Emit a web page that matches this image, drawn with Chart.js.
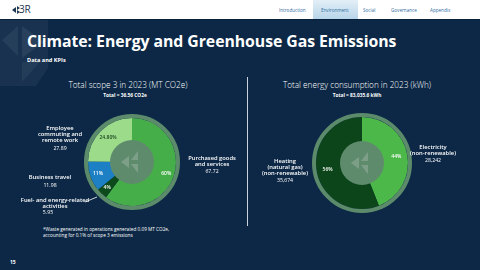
<!DOCTYPE html>
<html>
<head>
<meta charset="utf-8">
<script src="https://cdn.jsdelivr.net/npm/chart.js@4.4.1/dist/chart.umd.min.js"></script>
<style>
    html, body { margin: 0; padding: 0; }
    body {
        width: 480px; height: 270px; overflow: hidden; position: relative;
        background: #0c2846; color: #fff;
        font-family: 'Open Sans', sans-serif;
    }
    .abs { position: absolute; white-space: nowrap; }
    #header { left: 0; top: 0; width: 480px; height: 19px; background: #fff; border-bottom: 1px solid #08203a; }
    .nav { top: 7px; font-size: 4.6px; color: #2f6d9f; }
    #tab { left: 313px; top: 0; width: 45px; height: 19px; background: linear-gradient(#e3eff7, #b8d5e9); }
    #logo { left: 19px; top: 2px; font-size: 10px; color: #1c3550; letter-spacing: -0.3px; }
    #title { left: 27px; top: 30px; font-size: 15.8px; font-weight: 700; letter-spacing: -0.05px; }
    #subtitle { left: 27px; top: 56px; font-size: 5.6px; font-weight: 700; }
    .ctitle { top: 79px; font-size: 8.2px; font-weight: 300; transform: translateX(-50%); }
    .ctotal { top: 92px; font-size: 4.8px; font-weight: 700; transform: translateX(-50%); }
    #divider { left: 247px; top: 77px; width: 1px; height: 149px; background: #c9d3de; }
    #note { left: 43px; top: 226px; font-size: 4.7px; line-height: 6px; }
    #page { left: 10px; top: 259px; font-size: 5px; font-weight: 700; }
    canvas { position: absolute; }
</style>
</head>
<body>
<svg class="abs" style="left:0;top:20px" width="60" height="70">
    <polygon points="0,0 48,0 48,48 36,66 0,66" fill="#ffffff" fill-opacity="0.05"/>
    <polygon points="2,20 18,6 18,36" fill="#ffffff" fill-opacity="0.06"/>
    <polygon points="22,6 44,22 22,38" fill="#ffffff" fill-opacity="0.07"/>
    <polygon points="22,42 40,42 22,62" fill="#ffffff" fill-opacity="0.05"/>
</svg>
<div id="header" class="abs"></div>
<div id="tab" class="abs"></div>
<svg class="abs" style="left:12px;top:6px" width="9" height="8">
    <polygon points="0,4 4,1 4,7" fill="#1c3550"/>
    <polygon points="5,0 8,2 5,4" fill="#1c3550"/>
    <polygon points="5,4 8,6 5,8" fill="#1c3550"/>
</svg>
<div id="logo" class="abs">3R</div>
<div class="abs nav" style="left:279px">Introduction</div>
<div class="abs nav" style="left:321px">Environment</div>
<div class="abs nav" style="left:363px">Social</div>
<div class="abs nav" style="left:391px">Governance</div>
<div class="abs nav" style="left:430px">Appendix</div>

<div id="title" class="abs">Climate: Energy and Greenhouse Gas Emissions</div>
<div id="subtitle" class="abs">Data and KPIs</div>

<div class="abs ctitle" style="left:128px">Total scope 3 in 2023 (MT CO2e)</div>
<div class="abs ctotal" style="left:125px">Total = 36.56 CO2e</div>
<div class="abs ctitle" style="left:357px">Total energy consumption in 2023 (kWh)</div>
<div class="abs ctotal" style="left:357px">Total = 83,035.6 kWh</div>
<div id="divider" class="abs"></div>

<canvas id="scopeChart" width="246" height="125" style="left:0;top:100px"></canvas>
<canvas id="energyChart" width="233" height="125" style="left:247px;top:100px"></canvas>

<div id="note" class="abs">*Waste generated in operations generated 0.09 MT CO2e,<br>accounting for 0.1% of scope 3 emissions</div>
<div id="page" class="abs">15</div>

<script>
// ---- data ----
const scopeCategories = [
    ['Purchased goods', 'and services'],
    ['Fuel- and energy-related', 'activities'],
    ['Business travel'],
    ['Employee', 'commuting and', 'remote work']
];
const scopeValues = ['67.72', '5.95', '11.98', '27.89'];
const scopeShares = [60, 4, 11, 24.8];
const scopeShareText = ['60%', '4%', '11%', '24.80%'];

const energyCategories = [
    ['Electricity', '(non-renewable)'],
    ['Heating', '(natural gas)', '(non-renewable)']
];
const energyValues = ['28,242', '35,674'];
const energyShares = [44, 56];
const energyShareText = ['44%', '56%'];

// ---- styles ----
const scopeColors = ['#45ae49', '#0d4a1b', '#1d7fc4', '#9bdb8a'];
const scopeTextColors = ['#ffffff', '#ffffff', '#ffffff', '#1f4a22'];
const energyColors = ['#4cb84a', '#0b4519'];
const energyTextColors = ['#ffffff', '#ffffff'];

// label anchors in canvas pixels (center x, first line y)
const scopeLabelPos = [[212, 58], [55, 100], [50, 77], [60, 28]];
const scopeValuePos = [[212, 72], [48, 113], [50, 86], [60, 49]];
const energyLabelPos = [[186, 47], [38, 61]];
const energyValuePos = [[186, 61], [38, 81]];

const RING = '#5c8b6b';
const DISC = '#5f8b6d';

function drawLogo(ctx, x, y) {
    ctx.fillStyle = '#7d9f88';
    ctx.beginPath();
    ctx.moveTo(x - 11, y); ctx.lineTo(x - 3, y - 6); ctx.lineTo(x - 3, y + 6); ctx.closePath();
    ctx.fill();
    ctx.beginPath();
    ctx.moveTo(x + 6, y - 11); ctx.lineTo(x + 6, y - 2); ctx.lineTo(x - 1, y - 2); ctx.closePath();
    ctx.fill();
    ctx.beginPath();
    ctx.moveTo(x - 1, y + 2); ctx.lineTo(x + 6, y + 2); ctx.lineTo(x + 6, y + 11); ctx.closePath();
    ctx.fill();
}

function makeDecor(cfg) {
    return {
        id: 'decor',
        afterDatasetsDraw(chart) {
            const ctx = chart.ctx;
            const arcs = chart.getDatasetMeta(0).data;
            const cx = arcs[0].x, cy = arcs[0].y, r = arcs[0].outerRadius;
            ctx.save();
            // outer ring
            ctx.strokeStyle = RING;
            ctx.lineWidth = 4;
            ctx.beginPath();
            ctx.arc(cx, cy, r + 2, 0, Math.PI * 2);
            ctx.stroke();
            // center disc
            ctx.fillStyle = DISC;
            ctx.beginPath();
            ctx.arc(cx, cy, 22, 0, Math.PI * 2);
            ctx.fill();
            drawLogo(ctx, cx, cy);

            // share labels
            ctx.font = '600 5px "Open Sans", sans-serif';
            ctx.textAlign = 'center';
            ctx.textBaseline = 'middle';
            arcs.forEach((a, i) => {
                const mid = (a.startAngle + a.endAngle) / 2;
                const rr = cfg.shareRadius[i];
                ctx.fillStyle = cfg.textColors[i];
                ctx.fillText(cfg.shareText[i], cx + Math.cos(mid) * rr, cy + Math.sin(mid) * rr);
            });

            // outside labels
            ctx.fillStyle = '#ffffff';
            cfg.categories.forEach((lines, i) => {
                ctx.font = '600 5.8px "Open Sans", sans-serif';
                lines.forEach((t, k) => {
                    ctx.fillText(t, cfg.labelPos[i][0], cfg.labelPos[i][1] + k * 6.4);
                });
                ctx.font = '5.2px "Open Sans", sans-serif';
                ctx.fillText(cfg.values[i], cfg.valuePos[i][0], cfg.valuePos[i][1]);
            });

            if (cfg.leader) {
                ctx.strokeStyle = '#ffffff';
                ctx.lineWidth = 0.8;
                ctx.beginPath();
                ctx.moveTo(cfg.leader[0], cfg.leader[1]);
                ctx.lineTo(cfg.leader[2], cfg.leader[3]);
                ctx.stroke();
            }
            ctx.restore();
        }
    };
}

function createPie(id, shares, colors, padding, cfg) {
    new Chart(document.getElementById(id), {
        type: 'pie',
        data: {
            labels: cfg.categories.map(l => l.join(' ')),
            datasets: [{
                data: shares,
                backgroundColor: colors,
                borderWidth: 0
            }]
        },
        options: {
            responsive: false,
            animation: false,
            layout: { padding: padding },
            plugins: {
                legend: { display: false },
                tooltip: { enabled: false }
            }
        },
        plugins: [makeDecor(cfg)]
    });
}

createPie('scopeChart', scopeShares, scopeColors,
    { left: 88, right: 70, top: 18, bottom: 19 },
    {
        categories: scopeCategories,
        values: scopeValues,
        shareText: scopeShareText,
        shareRadius: [36, 36, 36, 34],
        textColors: scopeTextColors,
        labelPos: scopeLabelPos,
        valuePos: scopeValuePos,
        leader: [85, 102, 97, 97]
    });

createPie('energyChart', energyShares, energyColors,
    { left: 69, right: 72, top: 17, bottom: 16 },
    {
        categories: energyCategories,
        values: energyValues,
        shareText: energyShareText,
        shareRadius: [35, 35],
        textColors: energyTextColors,
        labelPos: energyLabelPos,
        valuePos: energyValuePos
    });
</script>
</body>
</html>
